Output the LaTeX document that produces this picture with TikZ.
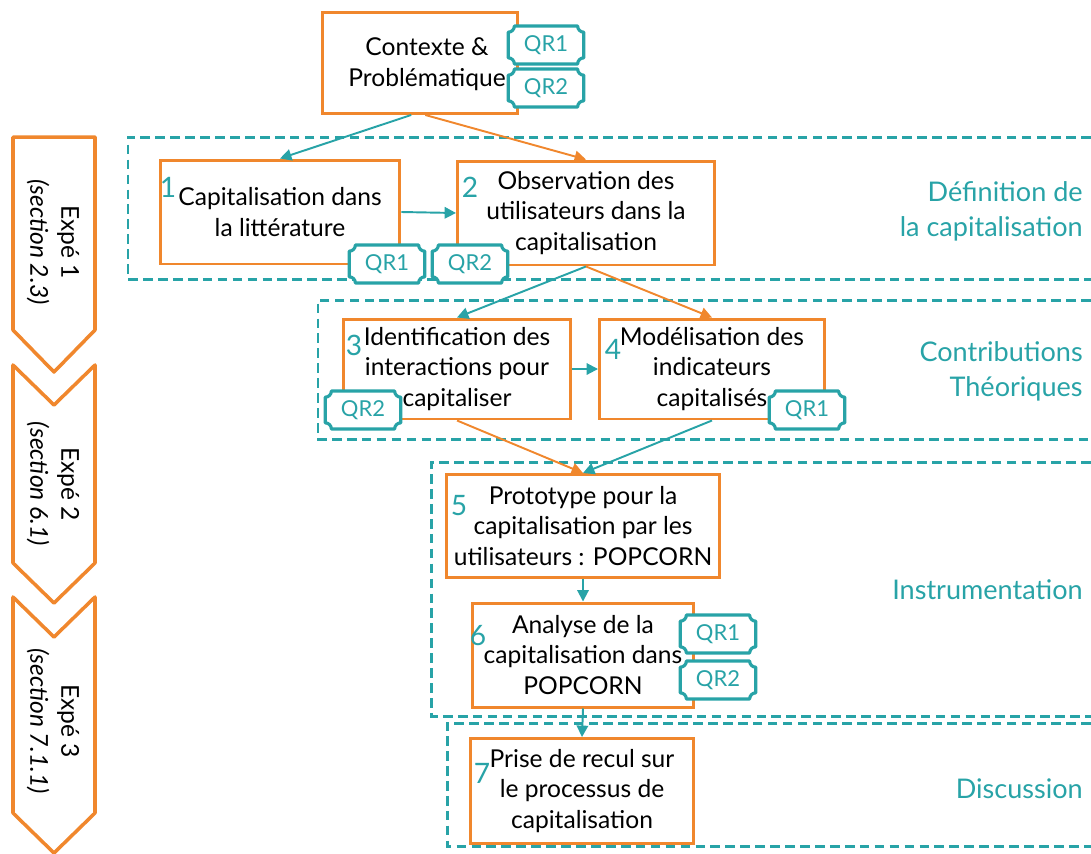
\documentclass[tikz,border=0pt]{standalone}
\usepackage{fontspec}
\setmainfont{Lato}
\usetikzlibrary{arrows.meta,calc}

\definecolor{orangebox}{RGB}{240,135,45}
\definecolor{tealqr}{RGB}{40,163,167}

\newcommand{\boxfont}{\fontsize{14}{17.6}\selectfont}
\newcommand{\expefont}{\fontsize{14}{17.6}\selectfont}

\tikzset{
  etape/.style={draw=orangebox, line width=1.7pt, fill=white, inner sep=0pt, align=center, font=\boxfont},
  num/.style={text=tealqr, inner sep=0pt, font=\fontsize{16}{16}\selectfont},
  zone/.style={draw=tealqr, line width=1.7pt, dash pattern=on 5.5pt off 3pt},
  theme/.style={text=tealqr, anchor=east, align=right, inner sep=0pt, font=\fontsize{15.4}{20}\selectfont},
  expe/.style={draw=orangebox, line width=2pt, line join=round},
  fleche/.style={-{Triangle[length=6.5pt,width=6.5pt]}, line width=1.1pt, draw=tealqr},
  fleche orange/.style={fleche, draw=orangebox},
  qrcadre/.style={draw=tealqr, line width=1.8pt, fill=white, line join=round},
  qrtexte/.style={text=tealqr, inner sep=0pt, font=\fontsize{12.5}{12.5}\selectfont},
}

% badge QR : nom, position, texte
\newcommand{\qrtag}[3]{%
  \filldraw[qrcadre] ($(#2)+(-18pt,10.8pt)$) -- ++(36pt,0)
    arc[start angle=180,end angle=270,radius=3.5pt] -- ++(0,-14.6pt)
    arc[start angle=90,end angle=180,radius=3.5pt] -- ++(-36pt,0)
    arc[start angle=0,end angle=90,radius=3.5pt] -- ++(0,14.6pt)
    arc[start angle=270,end angle=360,radius=3.5pt] -- cycle;
  \node[qrtexte] (#1) at (#2) {#3};
}

\begin{document}
\begin{tikzpicture}[x=0.02cm, y=-0.02cm]
  \useasboundingbox (0,0) rectangle (1091,853);

  % Zones
  \draw[zone] (1091,137) -- (128,137) -- (128,279) -- (1091,279);
  \draw[zone] (1091,300) -- (318,300) -- (318,439) -- (1091,439);
  \draw[zone] (1091,462) -- (431,462) -- (431,716) -- (1091,716);
  \draw[zone] (1091,723) -- (447,723) -- (447,846) -- (1091,846);

  % Expes
  \draw[expe] (13,137) -- (95,137) -- (95,330) -- (54,372) -- (13,330) -- cycle;
  \draw[expe] (13,365) -- (54,405) -- (95,365) -- (95,563) -- (54,603) -- (13,563) -- cycle;
  \draw[expe] (13,597) -- (54,637) -- (95,597) -- (95,813) -- (54,853) -- (13,813) -- cycle;
  \foreach \y/\n/\s in {242/1/2.3, 484/2/6.1, 721/3/7.1.1}
    \node[rotate=-90, align=center, inner sep=0pt, font=\expefont] (expe\n) at (53,\y) {Expé \n\\\textit{(section \s)}};

  % Etapes
  \node[etape, minimum width=3.9cm, minimum height=2.02cm] (ctx) at (420,63) {};
  \node[align=center, inner sep=0pt, font=\boxfont] (ctx-txt) at (427,64) {Contexte \&\\Problématique};
  \node[etape, minimum width=4.8cm, minimum height=2.08cm] (b1) at (280,212) {Capitalisation dans\\la littérature};
  \node[etape, minimum width=5.14cm, minimum height=2.08cm] (b2) at (586,213) {Observation des\\utilisateurs dans la\\capitalisation};
  \node[etape, minimum width=4.54cm, minimum height=2cm] (b3) at (457,369) {Identification des\\interactions pour\\capitaliser};
  \node[etape, minimum width=4.5cm, minimum height=2cm] (b4) at (712,369) {Modélisation des\\indicateurs\\capitalisés};
  \node[etape, minimum width=5.48cm, minimum height=2.06cm] (b5) at (583,526) {Prototype pour la\\capitalisation par les\\utilisateurs : POPCORN};
  \node[etape, minimum width=4.44cm, minimum height=2.08cm] (b6) at (583,655) {Analyse de la\\capitalisation dans\\POPCORN};
  \node[etape, minimum width=4.46cm, minimum height=2.1cm] (b7) at (582,791) {Prise de recul sur\\le processus de\\capitalisation};

  % Numeros
  \foreach \n/\x/\y in {1/168/187, 2/470/187, 3/354/345, 4/613/349, 5/459/506, 6/478/636, 7/482/773}
    \node[num] (n\n) at (\x,\y) {\n};

  % Fleches
  \draw[fleche] ([xshift=-5pt]ctx.south) -- (b1.north);
  \draw[fleche orange] ([xshift=3pt]ctx.south) -- (b2.north);
  \draw[fleche] (b1.east) -- (b2.west);
  \draw[fleche] (b2.south) -- (b3.north);
  \draw[fleche orange] (b2.south) -- (b4.north);
  \draw[fleche] (b3.east) -- (b4.west);
  \draw[fleche orange] (b3.south) -- (b5.north);
  \draw[fleche] (b4.south) -- (b5.north);
  \draw[fleche] (b5.south) -- (b6.north);
  \draw[fleche] (b6.south) -- (b7.north);

  % Questions de recherche
  \qrtag{ctx-qr1}{546,45}{QR1}
  \qrtag{ctx-qr2}{546,88}{QR2}
  \qrtag{b1-qr1}{387,264}{QR1}
  \qrtag{b1-qr2}{470,264}{QR2}
  \qrtag{b3-qr2}{363,410}{QR2}
  \qrtag{b4-qr1}{807,410}{QR1}
  \qrtag{b6-qr1}{718,634}{QR1}
  \qrtag{b6-qr2}{718,680}{QR2}

  % Themes
  \node[theme] (t1) at (1083,211) {Définition de\\la capitalisation};
  \node[theme] (t2) at (1083,371) {Contributions\\Théoriques};
  \node[theme] (t3) at (1083,590) {Instrumentation};
  \node[theme] (t4) at (1083,789) {Discussion};
\end{tikzpicture}
\end{document}
